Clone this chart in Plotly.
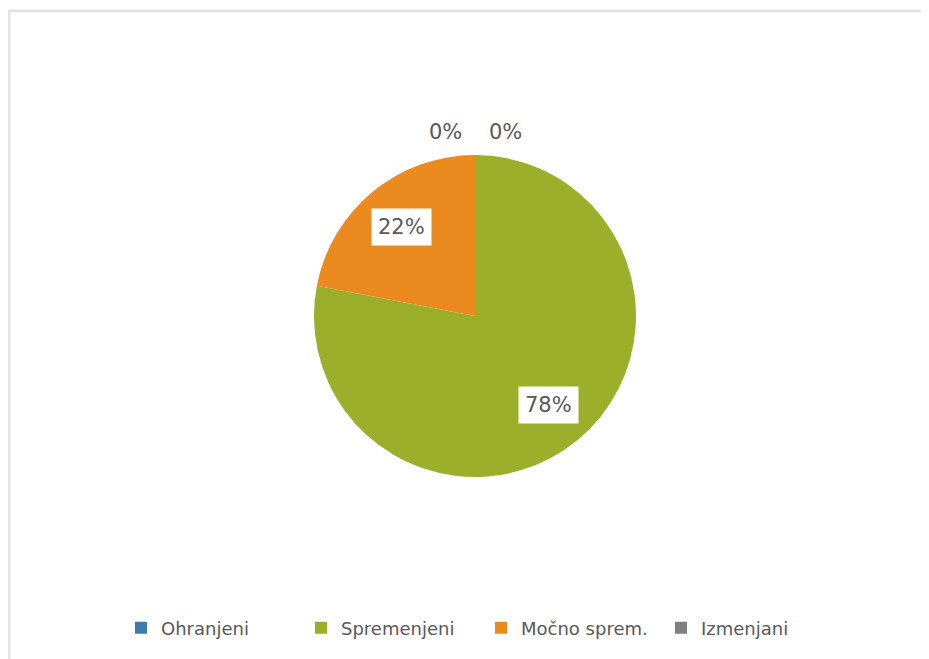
import math
import plotly.graph_objects as go

categories = ["Ohranjeni", "Spremenjeni", "Močno sprem.", "Izmenjani"]
values = [0, 78, 22, 0]
colors = ["#3F7CAC", "#9CAF2A", "#EB8A1E", "#7F7F7F"]

W, H = 929, 659
OFF = 8  # browser body margin
cx, cy, r = 475 - OFF, 316 - OFF, 161
FONT = "DejaVu Sans, sans-serif"
TXT = "#595959"

fig = go.Figure()
fig.add_trace(go.Pie(
    labels=categories, values=values,
    marker=dict(colors=colors, line=dict(width=0)),
    sort=False, direction="clockwise", rotation=0,
    textinfo="none", hoverinfo="label+percent",
    domain=dict(x=[(cx - r) / W, (cx + r) / W], y=[1 - (cy + r) / H, 1 - (cy - r) / H]),
    showlegend=True,
))

total = sum(values)
annotations = []
cum = 0
zero_offsets = {0: 30, 3: -30}
for i, v in enumerate(values):
    frac = v / total
    pct = f"{round(frac * 100)}%"
    if v > 0:
        mid = (cum + frac / 2) * 2 * math.pi
        px = cx + 0.72 * r * math.sin(mid)
        py = cy - 0.72 * r * math.cos(mid)
        annotations.append(dict(
            x=px / W, y=1 - py / H, xref="paper", yref="paper", text=pct,
            xanchor="center", yanchor="middle",
            showarrow=False, bgcolor="white", borderpad=6,
            font=dict(family=FONT, size=21, color=TXT)))
    else:
        px = cx + zero_offsets.get(i, 0)
        py = cy - r - 23
        annotations.append(dict(
            x=px / W, y=1 - py / H, xref="paper", yref="paper", text=pct,
            yanchor="middle", xanchor="center",
            showarrow=False, font=dict(family=FONT, size=21, color=TXT)))
    cum += frac

fig.update_layout(
    width=W, height=H,
    margin=dict(l=0, r=0, t=0, b=0),
    paper_bgcolor="white", plot_bgcolor="white",
    annotations=annotations,
    legend=dict(orientation="h", x=(481 - OFF) / W, xanchor="center", y=1 - (628 - OFF) / H,
                yanchor="middle", entrywidth=135, entrywidthmode="pixels",
                font=dict(family=FONT, size=18, color=TXT), traceorder="normal",
                itemsizing="constant"),
    shapes=[
        dict(type="line", xref="paper", yref="paper", x0=1 / W, x1=1 / W, y0=0, y1=1 - 3 / H,
             line=dict(color="#E3E3E3", width=3)),
        dict(type="line", xref="paper", yref="paper", x0=0, x1=1, y0=1 - 3 / H, y1=1 - 3 / H,
             line=dict(color="#E3E3E3", width=3)),
    ],
)

fig.write_html("out.html")
